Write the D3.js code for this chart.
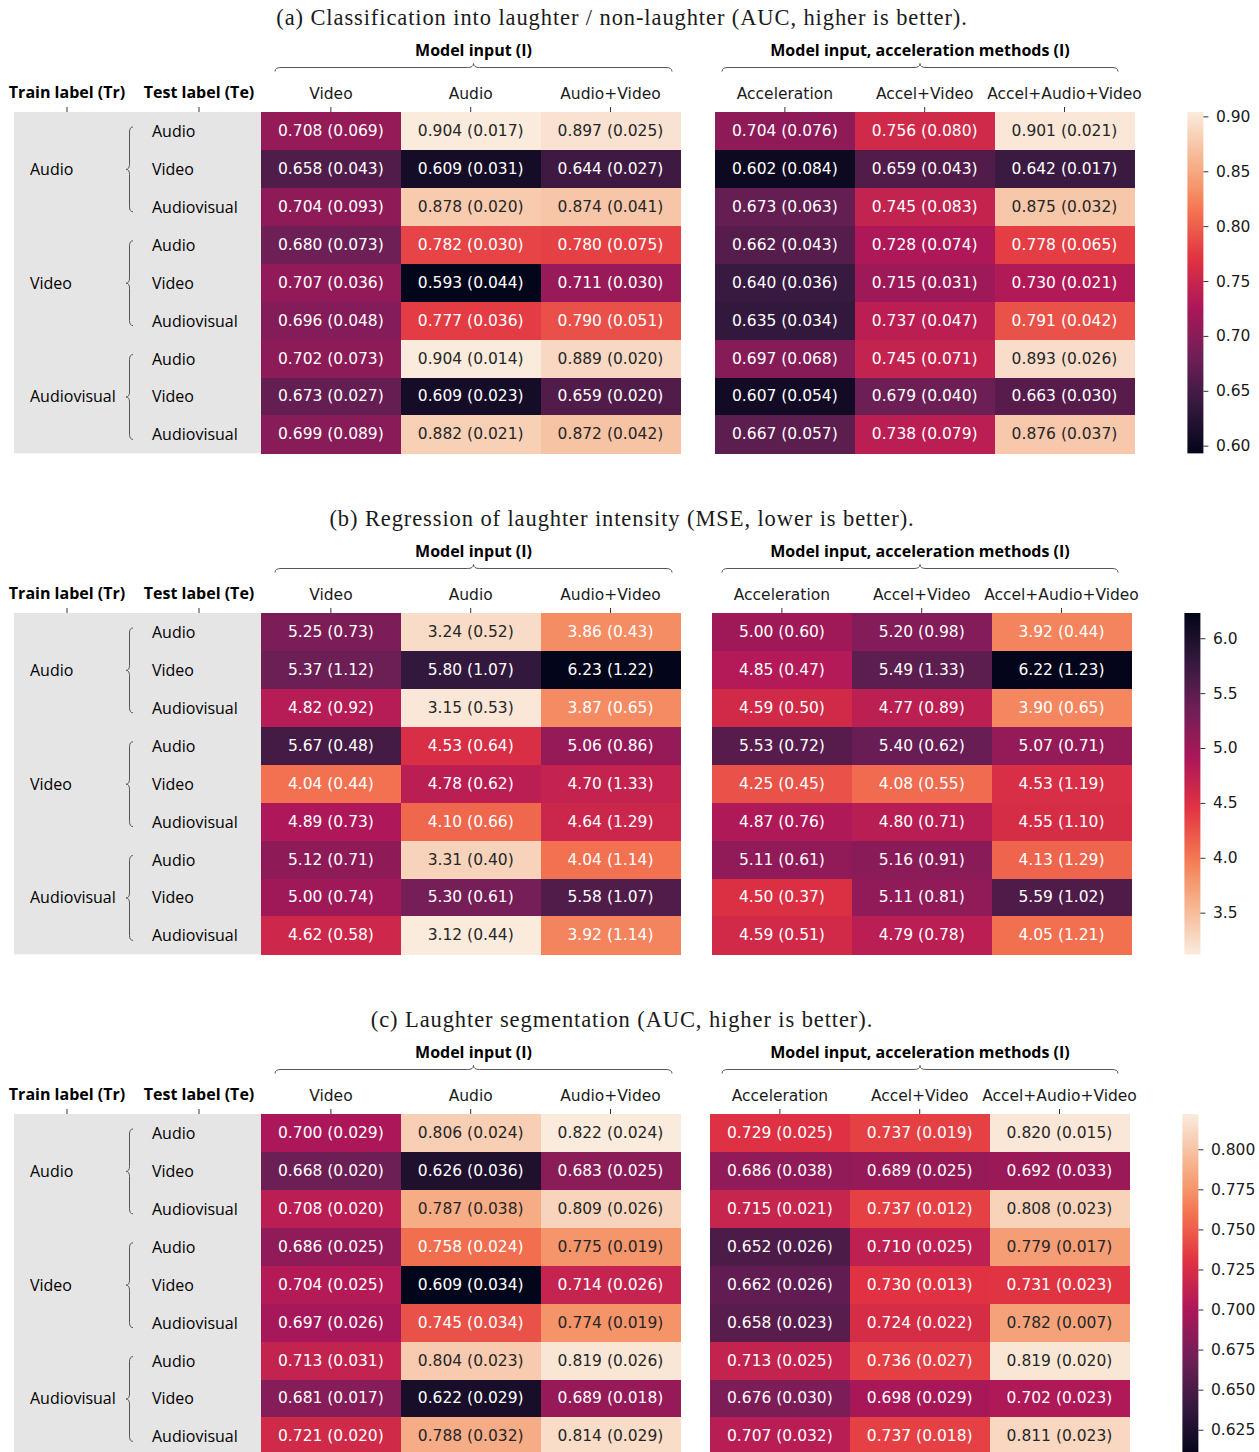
<!DOCTYPE html>
<html>
<head>
<meta charset="utf-8">
<script src="https://cdn.jsdelivr.net/npm/d3@7"></script>
<style>
  html, body { margin: 0; padding: 0; background: #fff; overflow: hidden; }
  svg { display: block; }
</style>
</head>
<body>
<svg id="fig" width="1259" height="1452"></svg>
<script>
// ---------------- data ----------------
const trainLabels = ["Audio", "Video", "Audiovisual"];
const testLabels = ["Audio", "Video", "Audiovisual"];
const inputColumns = ["Video", "Audio", "Audio+Video"];
const accelColumns = ["Acceleration", "Accel+Video", "Accel+Audio+Video"];
const groupTitles = ["Model input (I)", "Model input, acceleration methods (I)"];
const panelTitles = [
  "(a) Classification into laughter / non-laughter (AUC, higher is better).",
  "(b) Regression of laughter intensity (MSE, lower is better).",
  "(c) Laughter segmentation (AUC, higher is better)."
];

// (a) classification AUC: rows = Tr x Te (Audio, Video, Audiovisual each), mean and std
const clsInputMean = [
  [0.708, 0.904, 0.897], [0.658, 0.609, 0.644], [0.704, 0.878, 0.874],
  [0.680, 0.782, 0.780], [0.707, 0.593, 0.711], [0.696, 0.777, 0.790],
  [0.702, 0.904, 0.889], [0.673, 0.609, 0.659], [0.699, 0.882, 0.872]
];
const clsInputStd = [
  [0.069, 0.017, 0.025], [0.043, 0.031, 0.027], [0.093, 0.020, 0.041],
  [0.073, 0.030, 0.075], [0.036, 0.044, 0.030], [0.048, 0.036, 0.051],
  [0.073, 0.014, 0.020], [0.027, 0.023, 0.020], [0.089, 0.021, 0.042]
];
const clsAccelMean = [
  [0.704, 0.756, 0.901], [0.602, 0.659, 0.642], [0.673, 0.745, 0.875],
  [0.662, 0.728, 0.778], [0.640, 0.715, 0.730], [0.635, 0.737, 0.791],
  [0.697, 0.745, 0.893], [0.607, 0.679, 0.663], [0.667, 0.738, 0.876]
];
const clsAccelStd = [
  [0.076, 0.080, 0.021], [0.084, 0.043, 0.017], [0.063, 0.083, 0.032],
  [0.043, 0.074, 0.065], [0.036, 0.031, 0.021], [0.034, 0.047, 0.042],
  [0.068, 0.071, 0.026], [0.054, 0.040, 0.030], [0.057, 0.079, 0.037]
];

// (b) intensity regression MSE
const regInputMean = [
  [5.25, 3.24, 3.86], [5.37, 5.80, 6.23], [4.82, 3.15, 3.87],
  [5.67, 4.53, 5.06], [4.04, 4.78, 4.70], [4.89, 4.10, 4.64],
  [5.12, 3.31, 4.04], [5.00, 5.30, 5.58], [4.62, 3.12, 3.92]
];
const regInputStd = [
  [0.73, 0.52, 0.43], [1.12, 1.07, 1.22], [0.92, 0.53, 0.65],
  [0.48, 0.64, 0.86], [0.44, 0.62, 1.33], [0.73, 0.66, 1.29],
  [0.71, 0.40, 1.14], [0.74, 0.61, 1.07], [0.58, 0.44, 1.14]
];
const regAccelMean = [
  [5.00, 5.20, 3.92], [4.85, 5.49, 6.22], [4.59, 4.77, 3.90],
  [5.53, 5.40, 5.07], [4.25, 4.08, 4.53], [4.87, 4.80, 4.55],
  [5.11, 5.16, 4.13], [4.50, 5.11, 5.59], [4.59, 4.79, 4.05]
];
const regAccelStd = [
  [0.60, 0.98, 0.44], [0.47, 1.33, 1.23], [0.50, 0.89, 0.65],
  [0.72, 0.62, 0.71], [0.45, 0.55, 1.19], [0.76, 0.71, 1.10],
  [0.61, 0.91, 1.29], [0.37, 0.81, 1.02], [0.51, 0.78, 1.21]
];

// (c) segmentation AUC
const segInputMean = [
  [0.700, 0.806, 0.822], [0.668, 0.626, 0.683], [0.708, 0.787, 0.809],
  [0.686, 0.758, 0.775], [0.704, 0.609, 0.714], [0.697, 0.745, 0.774],
  [0.713, 0.804, 0.819], [0.681, 0.622, 0.689], [0.721, 0.788, 0.814]
];
const segInputStd = [
  [0.029, 0.024, 0.024], [0.020, 0.036, 0.025], [0.020, 0.038, 0.026],
  [0.025, 0.024, 0.019], [0.025, 0.034, 0.026], [0.026, 0.034, 0.019],
  [0.031, 0.023, 0.026], [0.017, 0.029, 0.018], [0.020, 0.032, 0.029]
];
const segAccelMean = [
  [0.729, 0.737, 0.820], [0.686, 0.689, 0.692], [0.715, 0.737, 0.808],
  [0.652, 0.710, 0.779], [0.662, 0.730, 0.731], [0.658, 0.724, 0.782],
  [0.713, 0.736, 0.819], [0.676, 0.698, 0.702], [0.707, 0.737, 0.811]
];
const segAccelStd = [
  [0.025, 0.019, 0.015], [0.038, 0.025, 0.033], [0.021, 0.012, 0.023],
  [0.026, 0.025, 0.017], [0.026, 0.013, 0.023], [0.023, 0.022, 0.007],
  [0.025, 0.027, 0.020], [0.030, 0.029, 0.023], [0.032, 0.018, 0.023]
];

// colour bar tick values
const clsTicks = [0.60, 0.65, 0.70, 0.75, 0.80, 0.85, 0.90];
const regTicks = [3.5, 4.0, 4.5, 5.0, 5.5, 6.0];
const segTicks = [0.625, 0.650, 0.675, 0.700, 0.725, 0.750, 0.775, 0.800];

// ---------------- styling / layout ----------------
const SANS = "'Open Sans', 'Noto Sans', sans-serif";
const MPL = "'DejaVu Sans', sans-serif";
const SERIF = "'Liberation Serif', 'DejaVu Serif', serif";
const INK = "#1a1a1a";

// rocket colour map, sampled stops
const rocketPos   = [0, 1 / 7, 2 / 7, 3 / 7, 4 / 7, 5 / 7, 0.786, 6 / 7, 1];
const rocketStops = ["#03051a", "#35193e", "#701f57", "#ad1759", "#e13342", "#f37651", "#f5986e", "#f6b48f", "#faebdd"];
const rocket = d3.scaleLinear()
  .domain(rocketPos)
  .range(rocketStops)
  .interpolate(d3.interpolateRgb)
  .clamp(true);

const panels = [
  { title: panelTitles[0], mean: [clsInputMean, clsAccelMean], std: [clsInputStd, clsAccelStd],
    fmt: d3.format(".3f"), reversed: false, ticks: clsTicks, tickFmt: d3.format(".2f"),
    y0: 0, rightX: 715 },
  { title: panelTitles[1], mean: [regInputMean, regAccelMean], std: [regInputStd, regAccelStd],
    fmt: d3.format(".2f"), reversed: true, ticks: regTicks, tickFmt: d3.format(".1f"),
    y0: 501, rightX: 712 },
  { title: panelTitles[2], mean: [segInputMean, segAccelMean], std: [segInputStd, segAccelStd],
    fmt: d3.format(".3f"), reversed: false, ticks: segTicks, tickFmt: d3.format(".3f"),
    y0: 1002, rightX: 710 }
];

const LEFT_X = 261;
const MAP_W = 419.4;
const ROW_H = 37.93;
const NROW = trainLabels.length * testLabels.length;
const MAP_H = ROW_H * NROW;

const svg = d3.select("#fig");
const defs = svg.append("defs");

function luminance(c) {
  const rgb = d3.rgb(c);
  const lin = v => { v /= 255; return v <= 0.03928 ? v / 12.92 : Math.pow((v + 0.055) / 1.055, 2.4); };
  return 0.2126 * lin(rgb.r) + 0.7152 * lin(rgb.g) + 0.0722 * lin(rgb.b);
}

// curly brace opening downwards, tip pointing up
function hBrace(x1, x2, y) {
  const xm = (x1 + x2) / 2, r = 6, d = 4;
  return `M${x1},${y + d} Q${x1},${y} ${x1 + r},${y} L${xm - r},${y} Q${xm},${y} ${xm},${y - d}` +
         ` Q${xm},${y} ${xm + r},${y} L${x2 - r},${y} Q${x2},${y} ${x2},${y + d}`;
}
// curly brace opening rightwards, tip pointing left
function vBrace(x, y1, y2) {
  const ym = (y1 + y2) / 2, r = 5, d = 3.5;
  return `M${x + d},${y1} Q${x},${y1} ${x},${y1 + r} L${x},${ym - r} Q${x},${ym} ${x - d},${ym}` +
         ` Q${x},${ym} ${x},${ym + r} L${x},${y2 - r} Q${x},${y2} ${x + d},${y2}`;
}

panels.forEach((p, pi) => {
  const g = svg.append("g").attr("transform", `translate(0,${p.y0})`);
  const top = 112;

  const allVals = p.mean.flat(2);
  const vmin = d3.min(allVals), vmax = d3.max(allVals);
  const norm = d3.scaleLinear().domain([vmin, vmax]).range(p.reversed ? [1, 0] : [0, 1]);
  const colour = v => rocket(norm(v));

  // panel title
  g.append("text")
    .attr("x", 622).attr("y", 17.5)
    .attr("text-anchor", "middle").attr("dominant-baseline", "central")
    .style("font-family", SERIF).style("font-size", "22.5px").style("letter-spacing", "0.9px")
    .attr("fill", INK)
    .text(p.title);

  // grey label area
  g.append("rect")
    .attr("x", 14).attr("y", top).attr("width", LEFT_X - 14).attr("height", MAP_H)
    .attr("fill", "#e5e5e5");

  // train / test headers with their ticks
  [["Train label (Tr)", 67], ["Test label (Te)", 199]].forEach(([lab, x]) => {
    g.append("text")
      .attr("x", x).attr("y", 92)
      .attr("text-anchor", "middle").attr("dominant-baseline", "central")
      .style("font-family", SANS).style("font-size", "16px").style("font-weight", 700)
      .attr("fill", "#000").text(lab);
    g.append("line")
      .attr("x1", x).attr("x2", x).attr("y1", top - 5).attr("y2", top)
      .attr("stroke", "#333").attr("stroke-width", 1);
  });

  // row labels: training label per group, test label per row, braces
  const yRow = d3.scaleBand().domain(d3.range(NROW)).range([top, top + MAP_H]);
  trainLabels.forEach((tr, ti) => {
    const gy0 = top + ti * 3 * ROW_H, gy1 = gy0 + 3 * ROW_H;
    g.append("text")
      .attr("x", 30).attr("y", (gy0 + gy1) / 2)
      .attr("dominant-baseline", "central")
      .style("font-family", SANS).style("font-size", "16px")
      .attr("fill", "#000").text(tr);
    g.append("path")
      .attr("d", vBrace(129.5, gy0 + 15, gy1 - 14))
      .attr("fill", "none").attr("stroke", "#555").attr("stroke-width", 1);
    testLabels.forEach((te, ei) => {
      const r = ti * 3 + ei;
      g.append("text")
        .attr("x", 152).attr("y", yRow(r) + yRow.bandwidth() / 2)
        .attr("dominant-baseline", "central")
        .style("font-family", SANS).style("font-size", "16px")
        .attr("fill", "#000").text(te);
    });
  });

  // the two heatmaps
  const groups = [
    { cols: inputColumns, x0: LEFT_X, brace: [275, 672] },
    { cols: accelColumns, x0: p.rightX, brace: [722, 1118] }
  ];
  groups.forEach((grp, gi) => {
    const x = d3.scaleBand().domain(grp.cols).range([grp.x0, grp.x0 + MAP_W]);

    // group header + brace
    g.append("text")
      .attr("x", (grp.brace[0] + grp.brace[1]) / 2).attr("y", 49.5)
      .attr("text-anchor", "middle").attr("dominant-baseline", "central")
      .style("font-family", SANS).style("font-size", "16px").style("font-weight", 700)
      .attr("fill", "#000").text(groupTitles[gi]);
    g.append("path")
      .attr("d", hBrace(grp.brace[0], grp.brace[1], 67.5))
      .attr("fill", "none").attr("stroke", "#555").attr("stroke-width", 1);

    const cells = [];
    p.mean[gi].forEach((row, r) => row.forEach((v, c) => {
      cells.push({ r, col: grp.cols[c], v, s: p.std[gi][r][c] });
    }));

    const cg = g.append("g");
    cg.selectAll("rect").data(cells).join("rect")
      .attr("x", d => x(d.col)).attr("y", d => yRow(d.r))
      .attr("width", x.bandwidth() + 0.5).attr("height", yRow.bandwidth() + 0.5)
      .attr("fill", d => colour(d.v))
      .attr("shape-rendering", "crispEdges");
    cg.selectAll("text").data(cells).join("text")
      .attr("x", d => x(d.col) + x.bandwidth() / 2)
      .attr("y", d => yRow(d.r) + yRow.bandwidth() / 2)
      .attr("text-anchor", "middle").attr("dominant-baseline", "central")
      .style("font-family", MPL).style("font-size", "15.5px")
      .attr("fill", d => luminance(colour(d.v)) > 0.408 ? "#262626" : "#ffffff")
      .text(d => `${p.fmt(d.v)} (${p.fmt(d.s)})`);

    // column axis on top
    const ax = g.append("g").attr("transform", `translate(0,${top})`)
      .call(d3.axisTop(x).tickSize(5).tickPadding(8.5));
    ax.select(".domain").remove();
    ax.selectAll(".tick line").attr("stroke", "#333");
    ax.selectAll(".tick text")
      .style("font-family", MPL).style("font-size", "15.5px").attr("fill", INK);
  });

  // colour bar
  const cbX = p.rightX + MAP_W + 53, cbW = 16;
  const gradId = `cbar-${pi}`;
  const grad = defs.append("linearGradient").attr("id", gradId)
    .attr("x1", 0).attr("y1", 1).attr("x2", 0).attr("y2", 0);
  d3.range(0, 1.0001, 1 / 64).forEach(t => {
    grad.append("stop").attr("offset", t).attr("stop-color", colour(vmin + t * (vmax - vmin)));
  });
  g.append("rect")
    .attr("x", cbX).attr("y", top).attr("width", cbW).attr("height", MAP_H)
    .attr("fill", `url(#${gradId})`);
  const cbScale = d3.scaleLinear().domain([vmin, vmax]).range([top + MAP_H, top]);
  const cax = g.append("g").attr("transform", `translate(${cbX + cbW},0)`)
    .call(d3.axisRight(cbScale).tickValues(p.ticks).tickFormat(p.tickFmt).tickSize(5).tickPadding(7.5));
  cax.select(".domain").remove();
  cax.selectAll(".tick line").attr("stroke", "#333");
  cax.selectAll(".tick text")
    .style("font-family", MPL).style("font-size", "15.5px").attr("fill", INK);
});
</script>
</body>
</html>
